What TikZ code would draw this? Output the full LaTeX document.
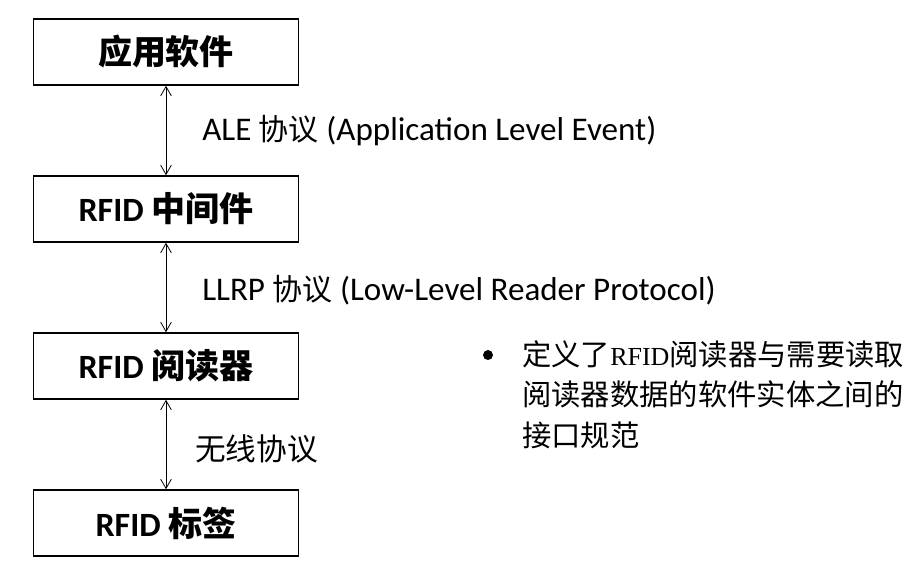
\documentclass[tikz,border=0pt]{standalone}
\usepackage{fontspec}
\setmainfont{Carlito}
\newfontfamily\cjk{Noto Sans CJK SC}
\newfontfamily\serif{Liberation Serif}
\usetikzlibrary{arrows.meta, positioning}

\begin{document}
\begin{tikzpicture}[
      x=0.75pt, y=-0.75pt,
      layer/.style={draw, line width=1.1pt, minimum width=198.75pt,
                    minimum height=49.5pt, inner sep=0pt,
                    font=\fontsize{25.5}{30}\selectfont\bfseries},
      link/.style={line width=0.6pt,
                   {Straight Barb[length=7pt,width=8pt]}-{Straight Barb[length=7pt,width=8pt]}},
      proto/.style={anchor=west, inner sep=0pt, font=\fontsize{24.8}{29}\selectfont},
    ]
    \useasboundingbox (0,0) rectangle (922,587);

    % the four layers, top to bottom
    \node[layer] (app)    at (166,52)  {{\cjk\bfseries 应用软件}};
    \node[layer] (mw)     at (166,209) {RFID {\cjk\bfseries 中间件}};
    \node[layer] (reader) at (166,366) {RFID {\cjk\bfseries 阅读器}};
    \node[layer] (tag)    at (166,523) {RFID {\cjk\bfseries 标签}};

    % links between neighbouring layers
    \draw[link] (app.south)    -- (mw.north);
    \draw[link] (mw.south)     -- (reader.north);
    \draw[link] (reader.south) -- (tag.north);

    % protocol names
    \node[proto] (ale)  at (202,131) {ALE {\cjk\fontsize{22.5}{27}\selectfont 协议} (Application Level Event)};
    \node[proto] (llrp) at (202,290) {LLRP {\cjk\fontsize{22.5}{27}\selectfont 协议} (Low-Level Reader Protocol)};
    \node[proto] (air)  at (195,449) {{\cjk\fontsize{23}{27}\selectfont 无线协议}};

    % note on LLRP
    \node[circle, fill, inner sep=0pt, minimum size=7.5pt] (dot) at (488,355) {};
    \node[anchor=north west, inner sep=0pt, align=left,
          font=\cjk\fontsize{22}{30.4}\selectfont] (note) at (522,340)
      {定义了{\serif\fontsize{19.5}{30.4}\selectfont RFID}阅读器与需要读取\\阅读器数据的软件实体之间的\\接口规范};
  \end{tikzpicture}
\end{document}
